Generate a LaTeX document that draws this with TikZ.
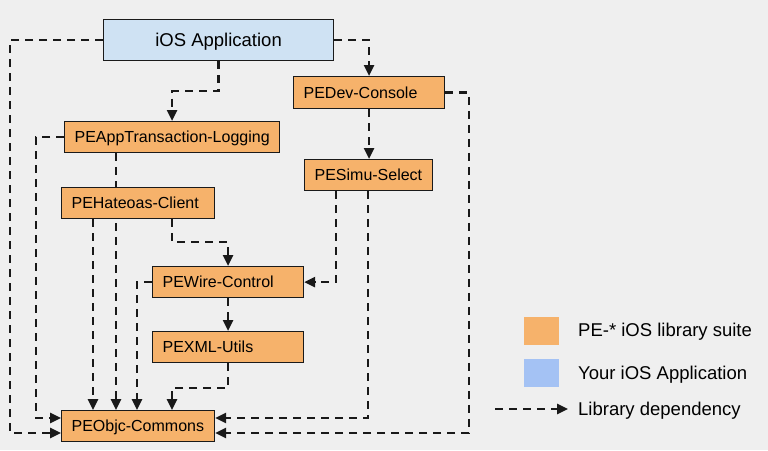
\documentclass[tikz,border=0pt]{standalone}
\usepackage{fontspec}
\setmainfont{Liberation Sans}
\usetikzlibrary{arrows.meta,backgrounds}
\definecolor{bgc}{HTML}{EFEFEF}
\definecolor{peorange}{HTML}{F6B26B}
\definecolor{iosblue}{HTML}{CFE2F3}
\definecolor{legblue}{HTML}{A4C2F4}
\definecolor{edgec}{HTML}{1A1A1A}
\tikzset{
  pebox/.style={draw=edgec, line width=1.2pt, fill=peorange, anchor=north west,
    inner xsep=10pt, inner ysep=0pt, align=left,
    font=\fontsize{16}{18}\selectfont, text height=11.5pt, text depth=0pt},
  appbox/.style={draw=edgec, line width=1.2pt, fill=iosblue, anchor=north west,
    inner sep=0pt, align=center,
    font=\fontsize{18.5}{21}\selectfont, text height=13.3pt, text depth=0pt},
  dep/.style={draw=black!90, line width=2.5pt, dash pattern=on 8pt off 6pt,
    -{Triangle[length=11pt,width=10pt]}},
  legsq/.style={anchor=north west, inner sep=0pt, minimum width=35pt, minimum height=28pt},
  legtxt/.style={anchor=west, inner sep=0pt, font=\fontsize{18.5}{21}\selectfont,
    text height=13.3pt, text depth=0pt}
}
\begin{document}
\begin{tikzpicture}[x=1pt,y=-1pt]
\useasboundingbox (0,0) rectangle (768,450);

% nodes
\node[appbox, minimum width=230pt, minimum height=41pt] (ios) at (103,19) {iOS Application};
\node[pebox, text width=131pt, minimum height=32pt] (dev) at (293,76) {PEDev-Console};
\node[pebox, text width=195pt, minimum height=31pt] (app) at (64,121) {\mbox{PEAppTransaction-Logging}};
\node[pebox, text width=108pt, minimum height=31pt] (simu) at (304,159) {PESimu-Select};
\node[pebox, text width=133pt, minimum height=31pt] (hat) at (61,187) {PEHateoas-Client};
\node[pebox, text width=131pt, minimum height=31pt] (wire) at (152,266) {PEWire-Control};
\node[pebox, text width=131pt, minimum height=31pt] (xml) at (152,331) {PEXML-Utils};
\node[pebox, text width=133pt, minimum height=31pt] (objc) at (61,410) {PEObjc-Commons};

% background and connectors
\begin{scope}[on background layer]
\fill[bgc] (0,0) rectangle (768,450);
\draw[dep] (ios.west) -| (10,433) -- (objc.west |- 10,433);
\draw[dep] (ios.east) -| (dev.north);
\draw[dep] (ios.south) -- ++(0,30) -| (app.north);
\draw[dep] (app.west) -| (36,418) -- (objc.west |- 36,418);
\draw[dep] (dev.south) -- (dev.south |- simu.north);
\draw[dep] (dev.east) -| (469,433) -- (objc.east |- 469,433);
\draw[dep] (simu.south -| 336,0) |- (wire.east);
\draw[dep] (simu.south -| 368,0) -- (368,418) -- (objc.east |- 368,418);
\draw[dep] (hat.south -| 93,0) -- (objc.north -| 93,0);
\draw[dep] (app.south -| 116,0) -- (objc.north -| 116,0);
\draw[dep] (hat.south -| 172,0) -- (172,242) -| (wire.north);
\draw[dep] (wire.west) -| (objc.north -| 137,0);
\draw[dep] (wire.south) -- (xml.north);
\draw[dep] (xml.south) -- ++(0,25) -| (objc.north -| 172,0);
\end{scope}

% legend
\node[legsq, fill=peorange] (lg1) at (524,317) {};
\node[legsq, fill=legblue] (lg2) at (524,359) {};
\node[legtxt] (lt1) at (578,330) {PE-* iOS library suite};
\node[legtxt] (lt2) at (578,373) {Your iOS Application};
\node[legtxt] (lt3) at (578,409) {Library dependency};
\coordinate (la) at (495,409);
\draw[dep] (la) -- ([xshift=-10pt]lt3.west);
\end{tikzpicture}
\end{document}
